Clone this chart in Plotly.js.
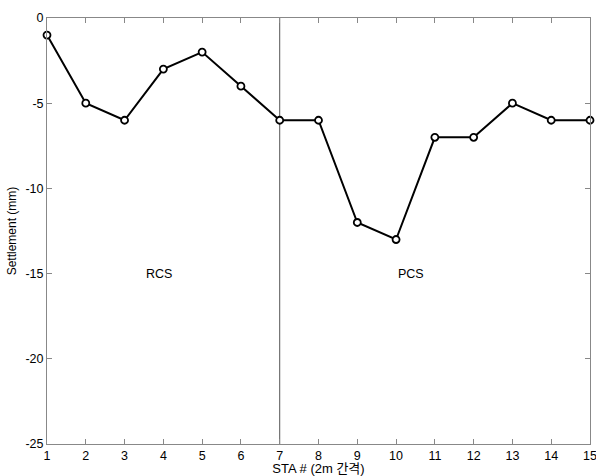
<!DOCTYPE html>
<html><head><meta charset="utf-8">
<script src="https://cdn.plot.ly/plotly-3.0.1.min.js"></script>
<style>html,body{margin:0;padding:0;background:#fff}</style>
</head><body>
<div id="chart" style="width:596px;height:476px"></div>
<script>
const sta = [1,2,3,4,5,6,7,8,9,10,11,12,13,14,15];
const settlement = [-1,-5,-6,-3,-2,-4,-6,-6,-12,-13,-7,-7,-5,-6,-6];
const xTicks = [1,2,3,4,5,6,7,8,9,10,11,12,13,14,15];
const yTicks = [0,-5,-10,-15,-20,-25];
const divideX = 7;
const labels = [{x:3.5,y:-15,text:'RCS'},{x:10,y:-15,text:'PCS'}];

const font = {family:'Liberation Sans, Arial, Noto Sans CJK KR, sans-serif', size:12, color:'#000'};
const data = [{
  x: sta, y: settlement, type:'scatter', mode:'lines+markers',
  line:{color:'#000', width:2},
  marker:{symbol:'circle', size:7, color:'#fff', line:{color:'#000', width:1.8}},
  cliponaxis:false, hoverinfo:'skip'
}];
const layout = {
  width:596, height:476,
  margin:{l:47, r:6, t:18, b:32},
  paper_bgcolor:'#fff', plot_bgcolor:'#fff',
  font: font, showlegend:false,
  xaxis:{range:[1,15], tickvals:xTicks, ticktext:xTicks.map(String), ticks:'inside', ticklen:5,
    tickcolor:'#888', linecolor:'#888', linewidth:1, mirror:'ticks', showgrid:false, zeroline:false,
    ticklabeloverflow:'allow',
    tickfont:{family:font.family,size:12.5,color:'#000'},
    title:{text:'STA # (2m 간격)', standoff:5, font:{family:font.family,size:13,color:'#000'}}},
  yaxis:{range:[-25,0], tickvals:yTicks, ticktext:yTicks.map(String), ticks:'inside', ticklen:5,
    tickcolor:'#888', linecolor:'#888', linewidth:1, mirror:'ticks', showgrid:false, zeroline:false,
    ticklabeloverflow:'allow',
    tickfont:{family:font.family,size:12.5,color:'#000'},
    title:{text:'Settlement (mm)', standoff:6, font:{family:font.family,size:12,color:'#000'}}},
  shapes:[{type:'line', xref:'x', yref:'y', x0:divideX, x1:divideX, y0:-25, y1:0, line:{color:'#555', width:1}, layer:'below'}],
  annotations: labels.map(l=>({x:l.x, y:l.y, xref:'x', yref:'y', text:l.text, showarrow:false, xanchor:'left', yanchor:'middle', font:{family:font.family,size:12.5,color:'#000'}}))
};
Plotly.newPlot('chart', data, layout, {displayModeBar:false, staticPlot:true});
</script>
</body></html>
